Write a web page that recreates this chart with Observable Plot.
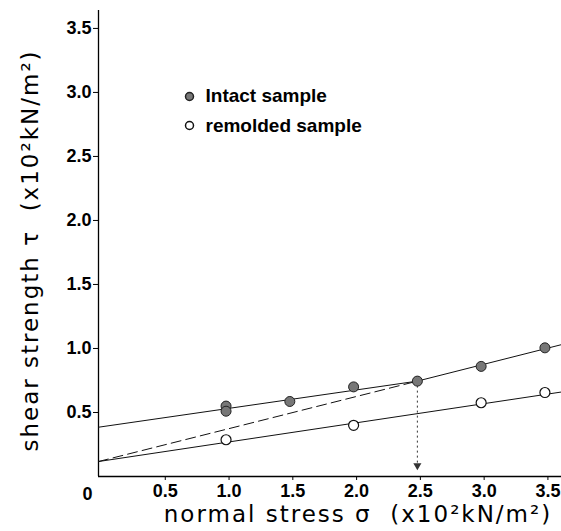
<!DOCTYPE html>
<html>
<head>
<meta charset="utf-8">
<script src="https://cdn.jsdelivr.net/npm/d3@7"></script>
<script src="https://cdn.jsdelivr.net/npm/@observablehq/plot@0.6"></script>
<style>
body { margin: 0; background: #fff; }
svg { font-family: "Liberation Sans", Arial, sans-serif; }
</style>
</head>
<body>
<div id="chart"></div>
<script>
const xTicks = [0.5, 1.0, 1.5, 2.0, 2.5, 3.0, 3.5];
const yTicks = [0.5, 1.0, 1.5, 2.0, 2.5, 3.0, 3.5];

const intactX = [1.0, 1.0, 1.5, 2.0, 2.5, 3.0, 3.5];
const intactY = [0.55, 0.51, 0.586, 0.70, 0.745, 0.86, 1.005];

const remoldedX = [1.0, 2.0, 3.0, 3.5];
const remoldedY = [0.287, 0.40, 0.576, 0.656];

const intactFitX = [0, 2.5, 3.63];
const intactFitY = [0.385, 0.745, 1.03];
const remoldedFitX = [0, 3.63];
const remoldedFitY = [0.117, 0.66];
const dashedX = [0, 2.5];
const dashedY = [0.117, 0.745];
const arrowX = [2.5];
const arrowTop = [0.745];
const arrowTip = [0.05];

const legendLabels = ["Intact sample", "remolded sample"];
const xLabel = "normal stress σ  (x10²kN/m²)";
const yLabel = "shear strength τ  (x10²kN/m²)";

const zip = (xs, ys) => xs.map((x, i) => ({x, y: ys[i]}));
const labelFont = "DejaVu Sans, sans-serif";

const chart = Plot.plot({
  width: 561,
  height: 531,
  marginLeft: 98,
  marginTop: 10,
  marginRight: 0,
  marginBottom: 55,
  x: {domain: [0, 3.63]},
  y: {domain: [0, 3.64]},
  style: {background: "#fff", color: "#000"},
  marks: [
    Plot.axisX({ticks: xTicks, tickFormat: d => d.toFixed(1), tickSize: 4, tickPadding: 4, fontSize: 18, fontWeight: "bold", dx: 3, label: null}),
    Plot.axisY({ticks: yTicks, tickFormat: d => d.toFixed(1), tickSize: 5, tickPadding: 2, fontSize: 18, fontWeight: "bold", label: null}),
    Plot.text(["0"], {x: 0, y: 0, dx: -11, dy: 18, fontSize: 18, fontWeight: "bold"}),
    Plot.ruleX([0], {stroke: "#000", strokeWidth: 1.3}),
    Plot.ruleY([0], {stroke: "#000", strokeWidth: 1.3}),
    Plot.line(zip(intactFitX, intactFitY), {x: "x", y: "y", stroke: "#111", strokeWidth: 1}),
    Plot.line(zip(remoldedFitX, remoldedFitY), {x: "x", y: "y", stroke: "#111", strokeWidth: 1}),
    Plot.line(zip(dashedX, dashedY), {x: "x", y: "y", stroke: "#111", strokeWidth: 1, strokeDasharray: "10,5"}),
    Plot.ruleX(arrowX, {x: d => d, y1: arrowTop[0], y2: arrowTip[0] + 0.04, stroke: "#333", strokeWidth: 1, strokeDasharray: "2,3"}),
    Plot.dot(arrowX, {x: d => d, y: arrowTip[0] + 0.035, symbol: "triangle", rotate: 180, r: 3, fill: "#333"}),
    Plot.dot(zip(intactX, intactY), {x: "x", y: "y", r: 5, fill: "#777", stroke: "#222", strokeWidth: 1}),
    Plot.dot(zip(remoldedX, remoldedY), {x: "x", y: "y", r: 5, fill: "#fff", stroke: "#111", strokeWidth: 1.2}),
    Plot.dot([0], {frameAnchor: "top-left", dx: 91, dy: 86, r: 4, fill: "#777", stroke: "#222"}),
    Plot.dot([0], {frameAnchor: "top-left", dx: 91, dy: 115, r: 4, fill: "#fff", stroke: "#111"}),
    Plot.text([legendLabels[0]], {frameAnchor: "top-left", dx: 107, dy: 85, textAnchor: "start", lineAnchor: "middle", fontSize: 19, fontWeight: "bold"}),
    Plot.text([legendLabels[1]], {frameAnchor: "top-left", dx: 107, dy: 115, textAnchor: "start", lineAnchor: "middle", fontSize: 19, fontWeight: "bold"}),
    Plot.text([xLabel], {frameAnchor: "bottom", dx: 28, dy: 38, lineAnchor: "middle", textAnchor: "middle", fontSize: 23, fontFamily: labelFont}),
    Plot.text([yLabel], {frameAnchor: "left", dx: -68, dy: 7, rotate: -90, lineAnchor: "middle", textAnchor: "middle", fontSize: 23, fontFamily: labelFont})
  ]
});
d3.select(chart).selectAll("text")
  .filter(function() { return this.textContent === xLabel || this.textContent === yLabel; })
  .attr("letter-spacing", 2.0);
document.getElementById("chart").appendChild(chart);
</script>
</body>
</html>
